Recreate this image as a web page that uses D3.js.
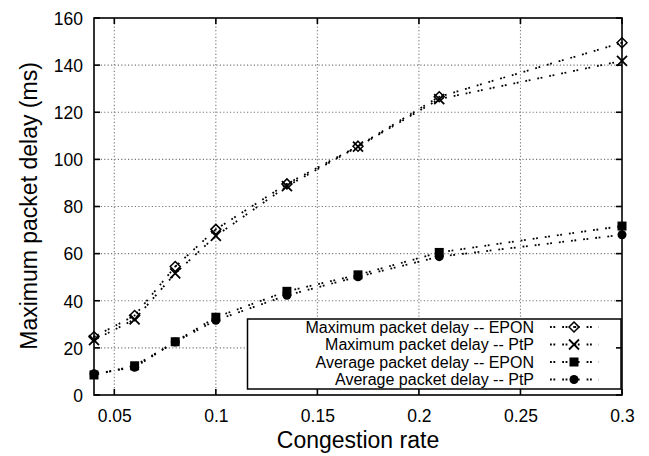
<!DOCTYPE html>
<html>
<head>
<meta charset="utf-8">
<script src="https://cdn.jsdelivr.net/npm/d3@7/dist/d3.min.js"></script>
<style>
  html, body { margin: 0; padding: 0; background: #fff; }
  svg { display: block; font-family: "Liberation Sans", Arial, Helvetica, sans-serif; }
</style>
</head>
<body>
<svg id="chart" width="649" height="456"></svg>
<script>
// ---- data ----
const congestion = [0.04, 0.06, 0.08, 0.1, 0.135, 0.17, 0.21, 0.3];
const maxEpon = [24.7, 33.7, 54.5, 70.3, 89.6, 105.6, 126.6, 149.5];
const maxPtp  = [23.3, 32.1, 51.6, 67.5, 88.6, 105.4, 125.6, 141.8];
const avgEpon = [8.5, 12.4, 22.6, 33.0, 44.0, 51.0, 60.5, 71.7];
const avgPtp  = [9.0, 11.8, 22.5, 31.7, 42.3, 50.2, 58.7, 68.0];
const seriesNames = ["Maximum packet delay -- EPON", "Maximum packet delay -- PtP",
                     "Average packet delay -- EPON", "Average packet delay -- PtP"];
const markerTypes = ["diamond", "cross", "square", "circle"];
const xTicks = [0.05, 0.1, 0.15, 0.2, 0.25, 0.3];
const yTicks = [0, 20, 40, 60, 80, 100, 120, 140, 160];
const xTitle = "Congestion rate";
const yTitle = "Maximum packet delay (ms)";

const series = [maxEpon, maxPtp, avgEpon, avgPtp].map((vals, i) => ({
  name: seriesNames[i], marker: markerTypes[i],
  points: vals.map((v, j) => ({x: congestion[j], y: v}))
}));

const svg = d3.select("#chart");
const L = 94, R = 622, T = 18, B = 395;
const x = d3.scaleLinear().domain([0.04, 0.3]).range([L, R]);
const y = d3.scaleLinear().domain([0, 160]).range([B, T]);

// grid
const grid = svg.append("g").attr("stroke", "#777").attr("stroke-width", 1.1)
  .attr("stroke-dasharray", "1.2,2.2");
xTicks.forEach(t => { if (x(t) < R - 1) grid.append("line").attr("x1", x(t)).attr("x2", x(t)).attr("y1", B).attr("y2", T); });
yTicks.forEach(t => { if (y(t) < B - 1 && y(t) > T + 1) grid.append("line").attr("x1", L).attr("x2", R).attr("y1", y(t)).attr("y2", y(t)); });

// data lines
const line = d3.line().x(d => x(d.x)).y(d => y(d.y));
const dash = "1.8,1.6,1.8,7";
function drawMarker(g, type, cx, cy) {
  if (type === "diamond") {
    g.append("path").attr("d", `M${cx},${cy-5}L${cx+5},${cy}L${cx},${cy+5}L${cx-5},${cy}Z`)
      .attr("fill", "none").attr("stroke", "#000").attr("stroke-width", 1.5);
    g.append("circle").attr("cx", cx).attr("cy", cy).attr("r", 1).attr("fill", "#000");
  } else if (type === "cross") {
    g.append("path").attr("d", `M${cx-5},${cy-5}L${cx+5},${cy+5}M${cx-5},${cy+5}L${cx+5},${cy-5}`)
      .attr("stroke", "#000").attr("stroke-width", 1.8);
  } else if (type === "square") {
    g.append("rect").attr("x", cx-4.5).attr("y", cy-4.5).attr("width", 9).attr("height", 9).attr("fill", "#000");
  } else {
    g.append("circle").attr("cx", cx).attr("cy", cy).attr("r", 4.5).attr("fill", "#000");
  }
}
const plot = svg.append("g");
series.forEach(s => {
  plot.append("path").datum(s.points).attr("d", line).attr("fill", "none")
    .attr("stroke", "#000").attr("stroke-width", 1.8).attr("stroke-dasharray", dash);
});
series.forEach(s => {
  const g = plot.append("g");
  s.points.forEach(p => drawMarker(g, s.marker, x(p.x), y(p.y)));
});

// legend
const lg = svg.append("g");
lg.append("rect").attr("x", 247.5).attr("y", 319).attr("width", 373.5).attr("height", 70)
  .attr("fill", "#fff").attr("stroke", "#000").attr("stroke-width", 1.5);
series.forEach((s, i) => {
  const cy = 327 + i * 17.5;
  lg.append("text").attr("x", 534).attr("y", cy + 5.8).attr("text-anchor", "end")
    .attr("font-size", 16).attr("fill", "#000").text(s.name);
  lg.append("line").attr("x1", 550).attr("x2", 599).attr("y1", cy).attr("y2", cy)
    .attr("stroke", "#000").attr("stroke-width", 1.8).attr("stroke-dasharray", dash);
  drawMarker(lg, s.marker, 574, cy);
});

// axes frame
const ax = svg.append("g").attr("stroke", "#000").attr("stroke-width", 1.6).attr("fill", "none");
ax.append("rect").attr("x", L).attr("y", T).attr("width", R - L).attr("height", B - T);
// ticks (inward, mirrored)
const tk = 6;
xTicks.forEach(t => {
  ax.append("line").attr("x1", x(t)).attr("x2", x(t)).attr("y1", B).attr("y2", B - tk);
  ax.append("line").attr("x1", x(t)).attr("x2", x(t)).attr("y1", T).attr("y2", T + tk);
});
yTicks.forEach(t => {
  ax.append("line").attr("x1", L).attr("x2", L + tk).attr("y1", y(t)).attr("y2", y(t));
  ax.append("line").attr("x1", R).attr("x2", R - tk).attr("y1", y(t)).attr("y2", y(t));
});

// tick labels
const xa = d3.axisBottom(x).tickValues(xTicks).tickSize(0).tickPadding(0).tickFormat(d3.format("~g"));
const xg = svg.append("g").attr("transform", `translate(0,${B})`).call(xa);
xg.select(".domain").remove();
xg.selectAll("text").attr("font-size", 17.5).attr("font-family", "Liberation Sans, Arial, sans-serif")
  .attr("fill", "#000").attr("dy", null).attr("y", 26.5);
const ya = d3.axisLeft(y).tickValues(yTicks).tickSize(0).tickPadding(0);
const yg = svg.append("g").attr("transform", `translate(${L},0)`).call(ya);
yg.select(".domain").remove();
yg.selectAll("text").attr("font-size", 17.5).attr("font-family", "Liberation Sans, Arial, sans-serif")
  .attr("fill", "#000").attr("x", -11).attr("dy", "0.36em");

// titles
svg.append("text").attr("x", (L + R) / 2).attr("y", 448).attr("text-anchor", "middle")
  .attr("font-size", 23).attr("fill", "#000").text(xTitle);
svg.append("text").attr("transform", `translate(37,206) rotate(-90)`).attr("text-anchor", "middle")
  .attr("font-size", 23).attr("fill", "#000").text(yTitle);
</script>
</body>
</html>
